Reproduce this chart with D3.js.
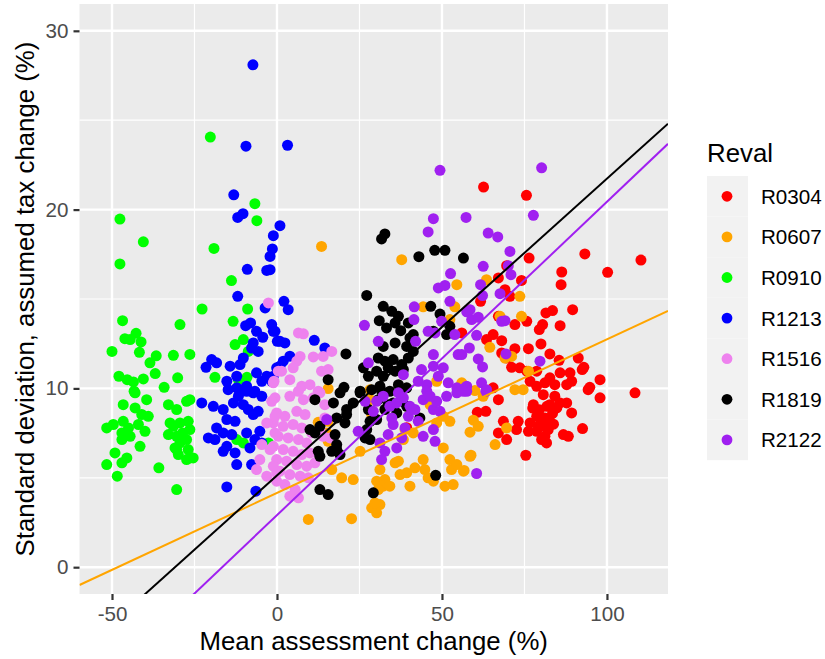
<!DOCTYPE html>
<html>
<head>
<meta charset="utf-8">
<script src="https://cdn.jsdelivr.net/npm/d3@7"></script>
<style>
  html, body { margin: 0; padding: 0; background: #ffffff; }
  svg { display: block; font-family: "Liberation Sans", Arial, Helvetica, sans-serif; }
</style>
</head>
<body>
<svg id="chart" width="825" height="659"></svg>
<script>
// Revaluation groups and their colours
const groups = ["R0304", "R0607", "R0910", "R1213", "R1516", "R1819", "R2122"];
const groupColors = ["#FF0000", "#FFA500", "#00FF00", "#0000FF", "#EE82EE", "#000000", "#A020F0"];

// Axis ticks
const xMajorTicks = [-50, 0, 50, 100];
const xMinorTicks = [-25, 25, 75];
const yMajorTicks = [0, 10, 20, 30];
const yMinorTicks = [5, 15, 25];

// Fitted lines: group, intercept, slope
const lineGroups = ["R0607", "R1819", "R2122"];
const lineIntercepts = [4.15, 5.13, 2.91];
const lineSlopes = [0.086, 0.166, 0.1753];

// Points: [mean assessment change %, sd of assumed tax change %]
const pointsR0304 = [[62.6,21.26],[75.6,20.8],[56.0,13.1],[76.4,17.29],[93.3,17.52],[110.3,17.18],[86.3,16.51],[100.2,16.49],[86.1,15.8],[69.6,16.86],[67.1,16.18],[69.1,15.52],[70.6,15.15],[74.1,16.04],[61.7,14.87],[81.5,14.22],[83.5,14.35],[89.6,14.4],[67.1,14.03],[75.7,13.75],[72.1,13.57],[80.5,13.57],[79.5,13.29],[85.8,13.51],[63.5,12.73],[65.5,13.01],[68.1,12.67],[80.0,12.49],[76.2,12.22],[72.1,12.22],[68.1,11.98],[69.6,11.7],[82.7,11.93],[85.5,11.57],[91.3,11.7],[93.0,11.18],[92.5,11.05],[71.1,11.18],[73.6,11.15],[75.7,10.96],[78.7,10.96],[85.8,10.87],[88.8,10.87],[89.3,10.4],[82.7,10.59],[81.2,10.31],[84.2,10.21],[87.8,10.21],[97.9,10.49],[94.8,10.06],[78.7,10.12],[76.7,10.4],[108.5,9.75],[65.5,10.03],[67.1,9.37],[60.7,8.66],[63.3,8.72],[68.6,8.16],[67.1,7.51],[69.6,7.14],[72.6,7.7],[73.1,8.16],[75.4,6.26],[76.7,8.07],[77.7,9.09],[78.7,8.44],[80.2,7.88],[81.2,8.35],[82.2,7.7],[82.7,8.16],[76.2,7.6],[78.7,7.6],[80.2,7.14],[81.7,6.95],[81.2,7.32],[80.7,9.65],[82.7,9.09],[84.2,9.56],[84.8,8.91],[85.8,9.19],[87.8,9.19],[89.3,8.63],[86.8,7.42],[88.3,7.32],[92.6,7.75],[94.3,9.93],[97.9,9.47],[39.3,7.8],[79.5,8.8],[80.5,8.0],[83.5,8.6],[79.2,7.9],[81.8,9.0],[77.5,8.9],[83.8,8.0]];

const pointsR0607 = [[13.5,17.94],[37.8,17.2],[54.5,15.8],[44.3,14.56],[53.9,14.56],[52.4,13.85],[58.0,14.4],[48.4,10.4],[15.5,9.99],[63.5,16.08],[73.6,15.15],[74.1,14.03],[67.6,14.03],[64.5,12.3],[71.1,11.79],[69.1,11.7],[76.2,10.96],[56.0,10.31],[60.0,9.88],[72.1,9.93],[74.6,9.93],[62.5,9.56],[59.5,8.22],[61.0,7.88],[58.5,7.55],[69.6,7.79],[66.1,6.86],[58.8,6.26],[56.7,5.41],[15.5,8.16],[15.1,7.51],[15.5,7.04],[19.6,5.0],[23.1,4.9],[9.5,2.67],[22.6,2.71],[16.6,5.46],[25.2,6.48],[28.2,9.37],[28.7,8.54],[28.2,9.93],[31.2,5.46],[32.7,4.9],[30.2,4.81],[32.2,4.53],[30.7,4.34],[34.2,4.53],[28.7,3.32],[30.2,3.04],[31.2,3.5],[29.7,3.6],[35.8,5.84],[36.8,5.93],[37.3,5.18],[39.3,5.28],[40.3,4.53],[41.8,5.56],[44.3,6.02],[44.8,5.46],[45.8,5.0],[47.4,4.81],[38.3,7.14],[38.8,7.7],[41.3,7.51],[48.4,8.07],[50.4,6.67],[52.4,8.16],[52.4,6.02],[52.9,5.46],[54.5,5.74],[56.5,5.37],[50.9,4.53],[53.4,4.62],[50.4,8.44],[58.5,6.2],[46.4,9.09],[12.5,8.1]];

const pointsR0910 = [[-20.2,24.06],[-6.7,20.33],[-47.6,19.47],[-6.1,19.38],[-40.5,18.2],[-19.1,17.83],[-47.6,16.96],[-13.8,16.03],[-8.9,14.44],[-22.7,14.44],[-46.8,13.79],[-29.4,13.57],[-13.3,13.75],[-42.7,13.08],[-41.2,12.6],[-46.1,12.78],[-44.5,12.73],[-50.0,12.07],[-41.7,12.02],[-38.5,11.43],[-36.6,11.82],[-31.4,11.85],[-26.4,11.9],[-36.9,10.83],[-47.9,10.68],[-45.4,10.49],[-43.5,10.36],[-40.5,10.53],[-30.1,10.59],[-18.8,10.62],[-34.2,10.06],[-43.3,9.84],[-12.7,12.45],[-10.2,12.73],[-8.7,12.07],[-11.7,10.49],[-9.1,10.62],[-43.0,9.75],[-39.5,9.37],[-46.6,9.09],[-43.0,8.91],[-41.0,8.54],[-39.0,8.44],[-51.6,7.79],[-49.6,7.98],[-46.6,8.16],[-45.0,7.79],[-47.0,7.51],[-42.0,7.98],[-40.0,7.6],[-44.5,7.32],[-47.0,7.14],[-41.5,6.76],[-49.1,6.39],[-45.5,6.11],[-47.0,5.84],[-51.6,5.74],[-48.4,5.09],[-35.8,5.56],[-30.4,4.34],[-32.9,9.09],[-30.4,8.82],[-27.4,9.28],[-26.4,9.37],[-32.4,8.07],[-31.4,7.88],[-29.4,8.07],[-26.9,8.16],[-26.4,7.7],[-32.9,7.42],[-30.4,7.32],[-28.6,7.51],[-29.4,6.95],[-27.4,7.14],[-30.9,6.67],[-30.4,6.58],[-26.9,6.58],[-26.4,6.11],[-27.4,6.02],[-25.4,6.11],[-29.9,6.3],[-12.2,7.14],[-10.2,6.95],[-2.6,6.95]];

const pointsR1213 = [[-7.3,28.1],[-9.4,23.55],[-13.1,20.83],[3.2,23.6],[-11.9,19.56],[-10.3,19.77],[0.9,19.1],[-1.1,18.54],[-1.4,17.8],[-2.1,17.38],[-9.0,16.66],[-3.1,16.6],[-11.9,15.15],[-3.6,14.5],[-2.1,16.64],[2.1,14.87],[3.4,14.4],[-1.6,13.57],[-1.1,13.19],[0.9,12.63],[2.4,12.54],[11.3,12.69],[3.9,11.8],[1.9,11.52],[0.9,11.24],[14.5,12.26],[-1.1,10.68],[-1.6,10.4],[-0.1,11.15],[-9.5,13.51],[-8.0,13.66],[-6.2,13.19],[-4.3,12.86],[-0.6,13.19],[0.1,12.63],[-7.2,12.54],[-5.7,12.07],[-7.7,12.26],[-10.2,11.7],[-11.2,11.33],[-14.2,11.24],[-19.8,11.61],[-18.3,11.43],[-21.5,11.18],[-15.2,10.4],[-12.2,10.68],[-6.2,10.87],[-4.6,10.4],[-3.1,10.68],[-6.7,9.84],[-12.2,10.03],[-14.8,9.93],[-10.7,9.93],[-9.2,10.12],[-22.8,9.19],[-19.3,9.0],[-16.3,8.82],[-13.2,9.19],[-11.7,9.56],[-10.2,9.09],[-8.7,8.82],[-7.2,8.54],[-5.7,8.72],[-7.2,9.75],[-9.2,9.84],[-4.6,9.56],[-15.2,8.26],[-12.7,8.16],[-18.3,7.79],[-20.8,7.23],[-18.8,7.14],[-16.3,7.51],[-13.7,7.42],[-16.3,6.48],[-12.7,6.39],[-15.2,6.76],[-12.2,5.74],[-8.2,6.67],[-6.7,7.14],[-5.2,7.6],[-7.7,5.74],[-15.2,4.49],[-6.4,4.25],[-9.2,7.51],[-4.6,6.95]];

const pointsR1516 = [[-2.6,14.78],[0.4,10.96],[-1.1,10.31],[6.5,13.1],[8.0,13.05],[11.0,11.76],[14.0,11.79],[16.6,12.07],[7.0,11.79],[6.0,11.52],[4.9,11.15],[1.4,10.96],[13.5,10.96],[15.5,11.05],[3.9,10.49],[7.5,10.12],[10.0,10.21],[12.5,9.84],[-0.9,10.4],[-0.6,9.47],[3.9,9.56],[6.5,9.84],[8.0,9.37],[11.0,9.47],[13.0,9.75],[14.5,9.09],[-0.1,8.63],[2.4,8.44],[6.0,8.72],[8.5,8.54],[-1.1,8.07],[1.9,7.88],[4.9,7.98],[7.5,7.79],[10.5,7.51],[13.0,7.7],[0.4,7.32],[3.4,7.23],[6.5,7.14],[9.0,6.95],[-1.1,6.76],[1.9,6.58],[4.9,6.48],[7.5,6.3],[10.0,6.39],[-0.1,6.02],[2.9,5.93],[6.0,5.74],[9.0,5.65],[11.5,5.84],[0.9,5.37],[3.9,5.18],[7.0,5.09],[9.5,5.0],[-0.1,4.81],[2.4,4.62],[5.5,4.34],[3.9,3.97],[6.5,3.88],[-1.6,9.28],[-0.6,8.44],[-3.1,8.07],[-0.6,7.51],[-4.6,6.86],[-2.1,6.58],[-5.2,6.02],[-6.2,5.46],[-3.1,5.09],[-0.1,5.28],[-1.1,5.65],[14.5,8.35],[14.0,7.32],[16.1,7.23]];

const pointsR1819 = [[32.7,18.64],[31.7,18.36],[43.0,17.37],[47.8,17.72],[50.9,17.72],[56.5,17.29],[27.2,15.2],[32.2,14.59],[34.8,14.31],[36.8,14.03],[31.0,13.79],[33.2,13.38],[35.8,13.66],[37.5,13.23],[39.8,13.66],[41.3,13.01],[40.3,12.82],[46.6,14.59],[49.4,14.16],[52.4,13.47],[51.4,13.01],[47.4,13.19],[32.2,12.35],[35.8,12.54],[39.3,12.35],[41.3,12.07],[39.8,11.7],[30.7,11.7],[32.7,11.52],[35.2,11.61],[37.8,11.33],[35.8,10.96],[38.3,11.05],[30.2,10.96],[32.2,10.68],[33.7,11.15],[26.2,11.15],[27.7,10.68],[20.9,11.93],[15.5,10.49],[20.3,10.06],[25.2,9.84],[28.7,9.93],[31.2,10.12],[34.2,9.84],[36.8,10.21],[39.3,10.03],[11.5,9.37],[17.1,9.19],[19.1,9.75],[21.1,8.82],[23.1,9.19],[25.2,9.75],[10.0,7.7],[11.5,7.51],[13.0,7.88],[18.1,8.35],[21.1,8.54],[20.6,8.07],[17.6,7.42],[18.1,6.86],[19.1,6.3],[16.6,6.48],[18.1,6.58],[12.5,6.48],[13.0,6.2],[13.0,4.34],[15.5,4.06],[27.7,8.82],[28.2,8.16],[27.2,7.7],[26.7,7.23],[28.2,7.14],[30.2,8.26],[30.7,9.37],[31.7,9.84],[33.7,9.09],[32.7,8.82],[35.2,9.19],[37.8,9.37],[39.3,9.0],[36.3,8.63],[43.3,8.35],[29.2,4.16],[48.1,5.14]];

const pointsR2122 = [[49.4,22.2],[80.2,22.34],[47.4,19.49],[45.8,18.75],[57.3,19.56],[52.6,16.42],[50.9,15.76],[48.9,15.62],[52.4,14.87],[57.5,14.28],[41.6,14.56],[41.5,13.85],[26.5,13.53],[30.7,12.63],[42.0,12.63],[45.8,13.19],[49.9,13.75],[47.9,13.1],[53.9,13.01],[47.4,11.89],[54.9,11.89],[27.7,11.43],[38.3,10.77],[43.8,11.05],[47.4,11.24],[50.4,11.15],[42.8,10.4],[45.4,10.21],[48.9,10.68],[51.9,10.31],[54.5,10.03],[57.5,10.12],[77.7,19.68],[64.0,18.69],[66.9,18.47],[70.6,17.66],[62.5,16.83],[70.1,16.86],[70.9,16.36],[61.7,15.8],[62.3,15.19],[67.6,15.3],[58.5,14.4],[59.0,13.85],[61.0,13.98],[68.1,13.75],[69.1,13.79],[60.5,12.97],[58.3,12.26],[56.0,11.89],[61.0,11.65],[62.3,11.2],[69.4,11.93],[79.7,11.52],[62.0,10.31],[57.0,10.03],[63.5,9.93],[15.1,8.26],[24.6,7.6],[26.7,9.28],[31.2,6.95],[31.7,6.02],[32.7,6.48],[33.7,7.42],[35.2,7.98],[36.3,6.67],[34.8,8.35],[37.8,7.23],[38.8,7.79],[39.8,8.44],[40.3,9.0],[41.8,8.82],[42.8,8.16],[44.3,9.37],[45.4,9.84],[44.3,7.32],[47.9,7.04],[47.4,7.7],[47.4,8.82],[49.4,8.72],[46.4,9.56],[48.4,9.28],[51.4,9.56],[54.5,9.75],[57.5,9.84],[29.2,8.72],[30.2,9.28],[32.2,9.56],[34.2,9.0],[36.3,9.19],[38.3,9.47],[36.8,9.75],[56.5,9.84],[63.3,9.84],[60.5,5.24]];

const groupPoints = [pointsR0304, pointsR0607, pointsR0910, pointsR1213, pointsR1516, pointsR1819, pointsR2122];

// ---- layout ----
const svg = d3.select("#chart");
const panel = { left: 79.5, right: 668, top: 4, bottom: 594 };
const x = d3.scaleLinear().domain([-59.85, 118.5]).range([panel.left, panel.right]);
const y = d3.scaleLinear().domain([-1.5, 31.5]).range([panel.bottom, panel.top]);
const color = d3.scaleOrdinal().domain(groups).range(groupColors);

const tickFont = 20.6, titleFont = 25.8;

svg.append("rect").attr("width", 825).attr("height", 659).attr("fill", "#ffffff");

svg.append("defs").append("clipPath").attr("id", "panel-clip")
  .append("rect")
  .attr("x", panel.left).attr("y", panel.top)
  .attr("width", panel.right - panel.left).attr("height", panel.bottom - panel.top);

// panel background
svg.append("rect")
  .attr("x", panel.left).attr("y", panel.top)
  .attr("width", panel.right - panel.left).attr("height", panel.bottom - panel.top)
  .attr("fill", "#EBEBEB");

// grid
const grid = svg.append("g");
grid.selectAll(".xminor").data(xMinorTicks).join("line")
  .attr("x1", d => x(d)).attr("x2", d => x(d)).attr("y1", panel.top).attr("y2", panel.bottom)
  .attr("stroke", "#fff").attr("stroke-width", 1.2);
grid.selectAll(".yminor").data(yMinorTicks).join("line")
  .attr("y1", d => y(d)).attr("y2", d => y(d)).attr("x1", panel.left).attr("x2", panel.right)
  .attr("stroke", "#fff").attr("stroke-width", 1.2);
grid.selectAll(".xmajor").data(xMajorTicks).join("line")
  .attr("x1", d => x(d)).attr("x2", d => x(d)).attr("y1", panel.top).attr("y2", panel.bottom)
  .attr("stroke", "#fff").attr("stroke-width", 2.4);
grid.selectAll(".ymajor").data(yMajorTicks).join("line")
  .attr("y1", d => y(d)).attr("y2", d => y(d)).attr("x1", panel.left).attr("x2", panel.right)
  .attr("stroke", "#fff").attr("stroke-width", 2.4);

// points, drawn group by group
const plot = svg.append("g").attr("clip-path", "url(#panel-clip)");
groups.forEach((g, i) => {
  plot.append("g").selectAll("circle").data(groupPoints[i]).join("circle")
    .attr("cx", d => x(d[0])).attr("cy", d => y(d[1]))
    .attr("r", 5.5).attr("fill", color(g));
});

// fitted lines across the full panel width
const [x0, x1] = x.domain();
lineGroups.forEach((g, i) => {
  const a = lineIntercepts[i], b = lineSlopes[i];
  plot.append("line")
    .attr("x1", x(x0)).attr("y1", y(a + b * x0))
    .attr("x2", x(x1)).attr("y2", y(a + b * x1))
    .attr("stroke", color(g)).attr("stroke-width", 2);
});

// axes
const xAxis = svg.append("g").attr("transform", `translate(0,${panel.bottom})`)
  .call(d3.axisBottom(x).tickValues(xMajorTicks).tickSize(6).tickPadding(6).tickFormat(d3.format("d")));
const yAxis = svg.append("g").attr("transform", `translate(${panel.left},0)`)
  .call(d3.axisLeft(y).tickValues(yMajorTicks).tickSize(6).tickPadding(5).tickFormat(d3.format("d")));
[xAxis, yAxis].forEach(ax => {
  ax.select(".domain").remove();
  ax.selectAll(".tick line").attr("stroke", "#333333").attr("stroke-width", 2.2);
  ax.selectAll(".tick text").attr("fill", "#4D4D4D")
    .style("font-size", tickFont + "px").style("font-family", "'Liberation Sans', Arial, sans-serif");
});
// format minus sign as a plain hyphen like the reference
xAxis.selectAll(".tick text").text(d => String(d));

// axis titles
svg.append("text")
  .attr("x", (panel.left + panel.right) / 2).attr("y", 650)
  .attr("text-anchor", "middle").style("font-size", titleFont + "px").attr("fill", "#000")
  .text("Mean assessment change (%)");
svg.append("text")
  .attr("transform", `translate(34,${(panel.top + panel.bottom) / 2}) rotate(-90)`)
  .attr("text-anchor", "middle").style("font-size", titleFont + "px").attr("fill", "#000")
  .text("Standard deviation, assumed tax change (%)");

// legend
const legend = svg.append("g");
legend.append("text").attr("x", 707).attr("y", 161.5)
  .style("font-size", titleFont + "px").attr("fill", "#000").text("Reval");
const keyH = 40.6, keyTop = 176;
groups.forEach((g, i) => {
  const cy = keyTop + keyH * i + keyH / 2;
  legend.append("rect").attr("x", 707).attr("y", keyTop + keyH * i)
    .attr("width", 41).attr("height", keyH).attr("fill", "#F2F2F2");
  legend.append("circle").attr("cx", 727).attr("cy", cy).attr("r", 5.4).attr("fill", color(g));
  legend.append("text").attr("x", 761).attr("y", cy + 7.4)
    .style("font-size", tickFont + "px").attr("fill", "#000").text(g);
});
</script>
</body>
</html>
